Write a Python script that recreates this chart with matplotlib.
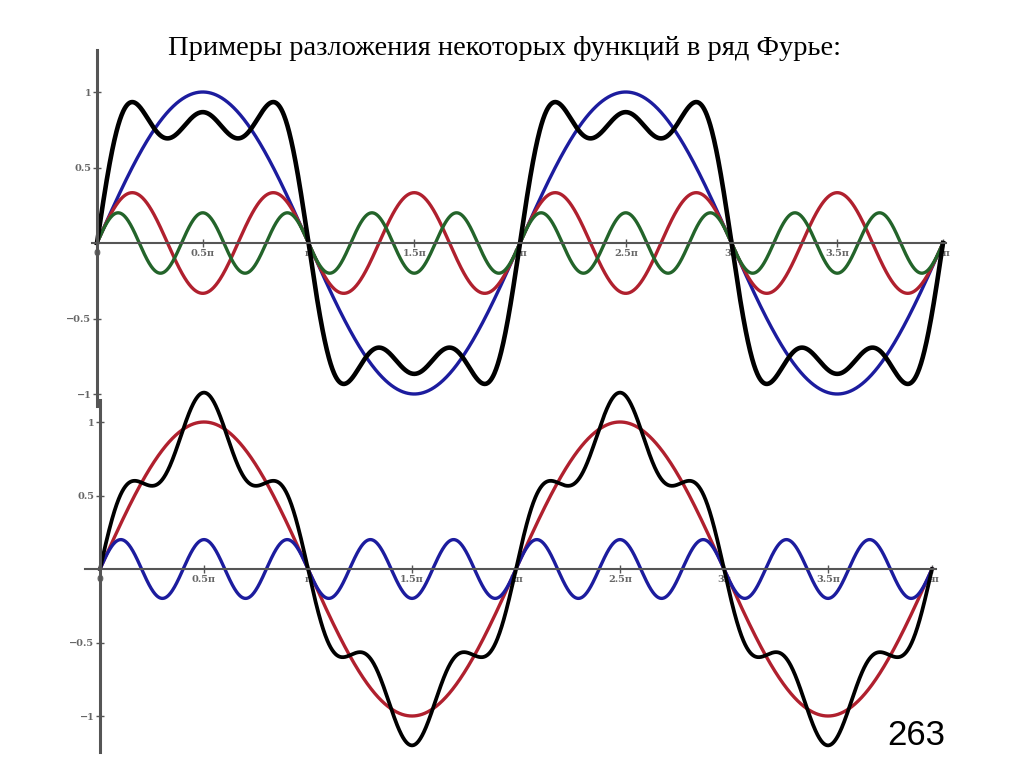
import numpy as np
import matplotlib
matplotlib.use('Agg')
import matplotlib.pyplot as plt

# Fourier harmonics: (frequency, amplitude)
top_freqs = [1, 3, 5]
top_amps = [1.0, 1/3, 1/5]
top_colors = ['#1c1c9e', '#b0202e', '#23642a']

bottom_freqs = [1, 5]
bottom_amps = [1.0, 0.2]
bottom_colors = ['#b0202e', '#1c1c9e']

xtick_pos = [0, 0.5, 1, 1.5, 2, 2.5, 3, 3.5, 4]
xtick_labels = ['0', '0.5π', 'π', '1.5π', '2π', '2.5π', '3π', '3.5π', '4π']
ytick_pos = [-1, -0.5, 0.5, 1]
ytick_labels = ['−1', '−0.5', '0.5', '1']

title = 'Примеры разложения некоторых функций в ряд Фурье:'
page_no = '263'

W, H = 1024, 767
fig = plt.figure(figsize=(W/100, H/100), dpi=100)

x = np.linspace(0, 4*np.pi, 2000)


def make_axes(left_px, right_px, top_px, bottom_px, x0_px, x4_px, y0_px, unit_px):
    ax = fig.add_axes([left_px/W, 1 - bottom_px/H, (right_px-left_px)/W, (bottom_px-top_px)/H])
    sx = 4*np.pi/(x4_px - x0_px)
    ax.set_xlim((left_px - x0_px)*sx, (right_px - x0_px)*sx)
    ax.set_ylim((y0_px - bottom_px)/unit_px, (y0_px - top_px)/unit_px)
    ax.patch.set_alpha(0)
    for s in ['top', 'right']:
        ax.spines[s].set_visible(False)
    ax.spines['left'].set_position(('data', 0))
    ax.spines['bottom'].set_position(('data', 0))
    ax.spines['left'].set_color('#555555')
    ax.spines['bottom'].set_color('#555555')
    ax.spines['left'].set_linewidth(2.2)
    ax.spines['bottom'].set_linewidth(1.5)
    ax.set_xticks([p*np.pi for p in xtick_pos])
    ax.set_xticklabels(xtick_labels)
    ax.set_yticks(ytick_pos)
    ax.set_yticklabels(ytick_labels)
    ax.tick_params(direction='inout', length=6, width=1, color='#555555',
                   labelcolor='#666666', labelsize=7, pad=1)
    for lab in ax.get_xticklabels() + ax.get_yticklabels():
        lab.set_family('DejaVu Serif')
        lab.set_fontweight('bold')
    return ax


# upper panel: square wave partial sums
ax1 = make_axes(92, 946, 50, 406, 97, 943, 243, 151)
total = np.zeros_like(x)
for f, a, c in zip(top_freqs, top_amps, top_colors):
    y = a*np.sin(f*x)
    total += y
    ax1.plot(x, y, color=c, lw=2.4, clip_on=False)
ax1.plot(x, total, color='black', lw=3.3, clip_on=False)

# lower panel
ax2 = make_axes(85, 936, 400, 752, 100, 932, 569, 147)
total = np.zeros_like(x)
for f, a, c in zip(bottom_freqs, bottom_amps, bottom_colors):
    y = a*np.sin(f*x)
    total += y
    ax2.plot(x, y, color=c, lw=2.4, clip_on=False)
ax2.plot(x, total, color='black', lw=2.7, clip_on=False)

fig.text(0.493, 0.937, title, ha='center', va='center', fontsize=20.5,
         family='Liberation Serif')
fig.text(0.895, 0.041, page_no, ha='center', va='center', fontsize=25,
         family='Liberation Sans')

fig.savefig('out.png', dpi=100)
